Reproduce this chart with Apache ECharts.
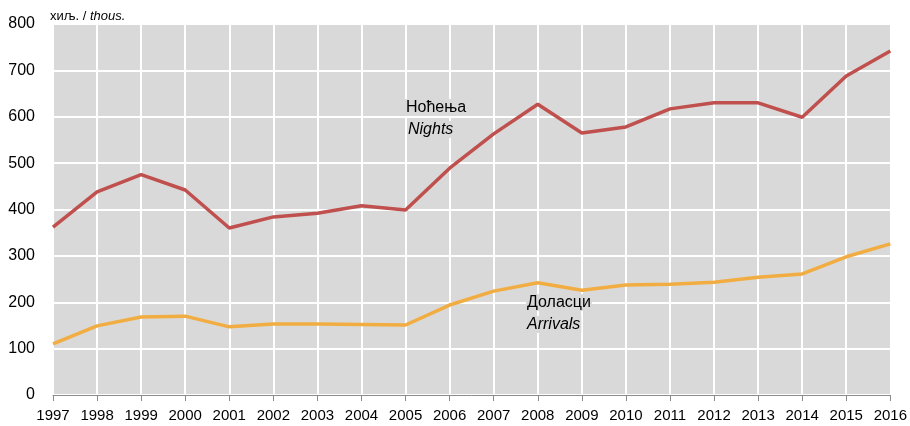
<!DOCTYPE html>
<html>
<head>
<meta charset="utf-8">
<script src="https://cdn.jsdelivr.net/npm/echarts@6/dist/echarts.min.js"></script>
<style>
  html, body { margin: 0; padding: 0; background: #fff; }
  #chart { width: 910px; height: 426px; }
</style>
</head>
<body>
<div id="chart"></div>
<script>
// years on the x axis
const years = ['1997', '1998', '1999', '2000', '2001', '2002', '2003', '2004', '2005', '2006',
  '2007', '2008', '2009', '2010', '2011', '2012', '2013', '2014', '2015', '2016'];
// Ноћења / Nights (thousands)
const nights = [362, 438, 475, 442, 360, 384, 392, 408, 399, 489,
  563, 627, 565, 578, 617, 630, 630, 599, 688, 742];
// Доласци / Arrivals (thousands)
const arrivals = [110, 149, 168, 170, 147, 153, 153, 152, 151, 194,
  224, 242, 226, 237, 239, 243, 254, 261, 298, 326];

const font = '"Liberation Sans Narrow", "Liberation Sans", Arial, sans-serif';
const bg = '#d9d9d9';

// series label text with the plot's grey behind it, so the grid lines stop at the words
function label(x, y, text, italic) {
  return {
    type: 'text', left: x, top: y, z: 100,
    style: {
      text: text, fontSize: 16, fontFamily: font, fill: '#000',
      fontStyle: italic ? 'italic' : 'normal',
      backgroundColor: bg, padding: [1, 1, 0, 1]
    }
  };
}

const chart = echarts.init(document.getElementById('chart'));
const option = {
  animation: false,
  textStyle: { fontFamily: font },
  grid: {
    left: 53, right: 18, top: 24, bottom: 31,
    show: true, backgroundColor: bg, borderWidth: 0
  },
  xAxis: {
    type: 'category', data: years, boundaryGap: false,
    axisLine: { lineStyle: { color: '#8c8c8c', width: 1 } },
    axisTick: { show: true, length: 6, interval: 0, lineStyle: { color: '#8c8c8c' } },
    axisLabel: { color: '#000', fontSize: 15, margin: 13, interval: 0, fontFamily: font },
    splitLine: { show: true, interval: 0, lineStyle: { color: '#fff', width: 2 } }
  },
  yAxis: {
    type: 'value', min: 0, max: 800, interval: 100,
    axisLine: { show: false }, axisTick: { show: false },
    axisLabel: { color: '#000', fontSize: 16, margin: 18, fontFamily: font },
    splitLine: { show: true, lineStyle: { color: '#fff', width: 2 } }
  },
  series: [
    {
      name: 'Nights', type: 'line', data: nights, symbol: 'none',
      lineStyle: { color: '#c0504d', width: 3.5 }
    },
    {
      name: 'Arrivals', type: 'line', data: arrivals, symbol: 'none',
      lineStyle: { color: '#f2ad42', width: 3.5 }
    }
  ],
  graphic: [
    { type: 'text', left: 50, top: 10, style: { rich: { a: { fontSize: 13, fontFamily: font, fill: '#000' }, b: { fontSize: 13, fontFamily: font, fontStyle: 'italic', fill: '#000' } }, text: '{a|хиљ. / }{b|thous.}' } },
    label(405, 99, 'Ноћења', false),
    label(407, 121, 'Nights', true),
    label(526, 294, 'Доласци', false),
    label(526, 316, 'Arrivals', true)
  ]
};
chart.setOption(option);
</script>
</body>
</html>
